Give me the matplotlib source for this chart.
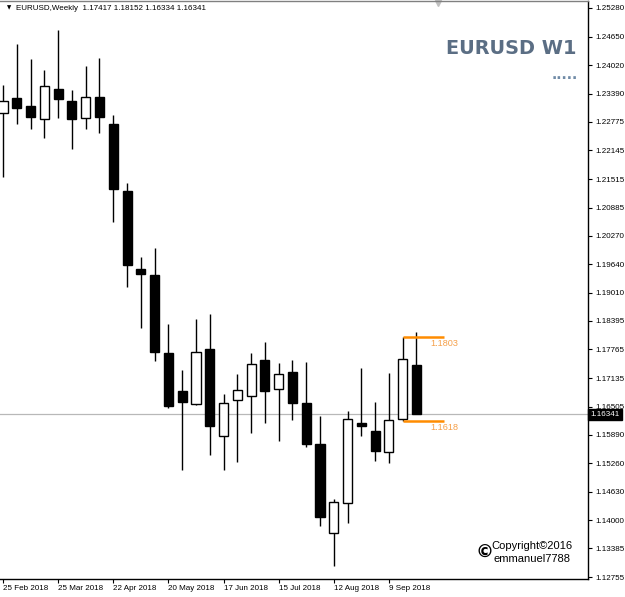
import matplotlib
matplotlib.use("Agg")
import matplotlib.pyplot as plt
import matplotlib.transforms as mtransforms

# ---- data (weekly EURUSD candles, 25 Feb 2018 .. 23 Sep 2018) ----
weeks = ["2018-02-25", "2018-03-04", "2018-03-11", "2018-03-18", "2018-03-25",
         "2018-04-01", "2018-04-08", "2018-04-15", "2018-04-22", "2018-04-29",
         "2018-05-06", "2018-05-13", "2018-05-20", "2018-05-27", "2018-06-03",
         "2018-06-10", "2018-06-17", "2018-06-24", "2018-07-01", "2018-07-08",
         "2018-07-15", "2018-07-22", "2018-07-29", "2018-08-05", "2018-08-12",
         "2018-08-19", "2018-08-26", "2018-09-02", "2018-09-09", "2018-09-16",
         "2018-09-23"]
opens = [1.22969, 1.23299, 1.23123, 1.22836, 1.23497, 1.23233, 1.22858, 1.23321,
         1.22726, 1.21252, 1.19535, 1.19403, 1.17686, 1.16849, 1.16563, 1.17774,
         1.15859, 1.16651, 1.16739, 1.17532, 1.16893, 1.17267, 1.16585, 1.15683,
         1.13724, 1.14384, 1.16145, 1.15969, 1.15507, 1.16233, 1.17417]
highs = [1.23585, 1.24487, 1.24157, 1.23915, 1.24796, 1.23475, 1.24003, 1.24179,
         1.22924, 1.21428, 1.19799, 1.19997, 1.18324, 1.17311, 1.18434, 1.18544,
         1.16783, 1.17223, 1.17686, 1.17928, 1.17466, 1.17532, 1.17488, 1.16299,
         1.14472, 1.16409, 1.17355, 1.16607, 1.17245, 1.18030, 1.18152]
lows = [1.21560, 1.22726, 1.22616, 1.22418, 1.22858, 1.22176, 1.22616, 1.22528,
        1.20569, 1.19138, 1.18236, 1.17510, 1.16475, 1.15110, 1.16540, 1.15440,
        1.15110, 1.15286, 1.15925, 1.16145, 1.15749, 1.16211, 1.15617, 1.13878,
        1.12997, 1.13944, 1.15859, 1.15308, 1.15264, 1.16180, 1.16334]
closes = [1.23233, 1.23079, 1.22880, 1.23563, 1.23277, 1.22836, 1.23321, 1.22880,
          1.21296, 1.19623, 1.19425, 1.17708, 1.16519, 1.16607, 1.17708, 1.16079,
          1.16585, 1.16871, 1.17444, 1.16849, 1.17223, 1.16585, 1.15683, 1.14076,
          1.14406, 1.16233, 1.16079, 1.15529, 1.16211, 1.17554, 1.16341]

y_ticks = [1.25280, 1.24650, 1.24020, 1.23390, 1.22775, 1.22145, 1.21515, 1.20885,
           1.20270, 1.19640, 1.19010, 1.18395, 1.17765, 1.17135, 1.16505, 1.15890,
           1.15260, 1.14630, 1.14000, 1.13385, 1.12755]
x_tick_labels = ["25 Feb 2018", "25 Mar 2018", "22 Apr 2018", "20 May 2018",
                 "17 Jun 2018", "15 Jul 2018", "12 Aug 2018", "9 Sep 2018"]
x_tick_every = 4
level_high = 1.1803
level_low = 1.1618

FONT = "Liberation Sans"
plt.rcParams["font.family"] = [FONT, "DejaVu Sans"]

fig = plt.figure(figsize=(6.25, 5.97), dpi=100)
ax = fig.add_axes([0, 1 - 579 / 597, 588 / 625, 578 / 597])

n = len(opens)
xs = list(range(n))
body_w = 0.66

# wicks
ax.vlines(xs, lows, highs, color="black", lw=1.0, zorder=2)
# bodies
bottoms = [min(o, c) for o, c in zip(opens, closes)]
heights = [abs(c - o) for o, c in zip(opens, closes)]
colors = ["white" if c >= o else "black" for o, c in zip(opens, closes)]
ax.bar(xs, heights, bottom=bottoms, width=body_w, color=colors,
       edgecolor="black", linewidth=1.0, zorder=3)

# last price line
last_price = closes[-1]
ax.axhline(last_price, color="#b8b8b8", lw=0.9, zorder=1)

# orange levels (drawn from the second-to-last candle to one slot past the last)
ax.hlines([level_high, level_low], n - 2, n + 1, color="#ff8c00", lw=1.8, zorder=4)
for lv in (level_high, level_low):
    ax.annotate(f"{lv:.4f}", xy=(n, lv), xytext=(0, -1.5),
                textcoords="offset points", ha="left", va="top",
                color="#f5a04a", fontsize=6.6)

ax.set_xlim(-0.22, 42.45)
ax.set_ylim(1.12711, 1.25434)

# axes style
ax.spines["left"].set_visible(False)
ax.spines["top"].set_color("#808080")
ax.spines["right"].set_color("black")
ax.spines["bottom"].set_color("black")
for s in ("top", "right", "bottom"):
    ax.spines[s].set_linewidth(1.0)

ax.yaxis.tick_right()
ax.set_yticks(y_ticks)
ax.set_yticklabels([f"{v:.5f}" for v in y_ticks])
ax.tick_params(axis="y", direction="out", length=3, width=0.8, pad=2,
               labelsize=5.8, colors="black")

ax.set_xticks(xs[::x_tick_every])
ax.set_xticklabels(x_tick_labels)
ax.tick_params(axis="x", direction="out", length=3, width=0.8, pad=1.5,
               labelsize=5.8)
for lab in ax.get_xticklabels():
    lab.set_ha("left")

# price box on axis
trans = mtransforms.blended_transform_factory(ax.transAxes, ax.transData)
ax.text(1.004, last_price, f"{last_price:.5f}", transform=trans, ha="left",
        va="center", color="white", fontsize=5.8, clip_on=False,
        bbox=dict(boxstyle="square,pad=0.25", fc="black", ec="black"))

# small shift marker at top
ax.plot([0.745], [0.996], marker="v", ms=5, color="#c0c0c0",
        transform=ax.transAxes, clip_on=False)

# header
fig.text(7 / 625, 1 - 8 / 597, "▼", fontsize=4, family="DejaVu Sans",
         va="center", ha="left")
fig.text(16 / 625, 1 - 8 / 597,
         f"EURUSD,Weekly  {opens[-1]:.5f} {highs[-1]:.5f} {lows[-1]:.5f} {closes[-1]:.5f}",
         fontsize=5.8, va="center", ha="left")

# title
fig.text(576 / 625, 1 - 48 / 597, "EURUSD W1", ha="right", va="center",
         fontsize=13.9, weight="bold", color="#5b6e84", family="DejaVu Sans")
fig.text(578 / 625, 1 - 75 / 597, ".....", ha="right", va="center",
         fontsize=10, weight="bold", color="#6f8aa6", family="DejaVu Sans")

# copyright
fig.text(484 / 625, 1 - 553 / 597, "©", ha="center", va="center",
         fontsize=13, weight="bold", family="DejaVu Sans")
fig.text(491 / 625, 1 - 546 / 597, "Copyright©2016", ha="left", va="center",
         fontsize=8)
fig.text(494 / 625, 1 - 559 / 597, "emmanuel7788", ha="left", va="center",
         fontsize=8)

fig.savefig("out.png", dpi=100, facecolor="white")
